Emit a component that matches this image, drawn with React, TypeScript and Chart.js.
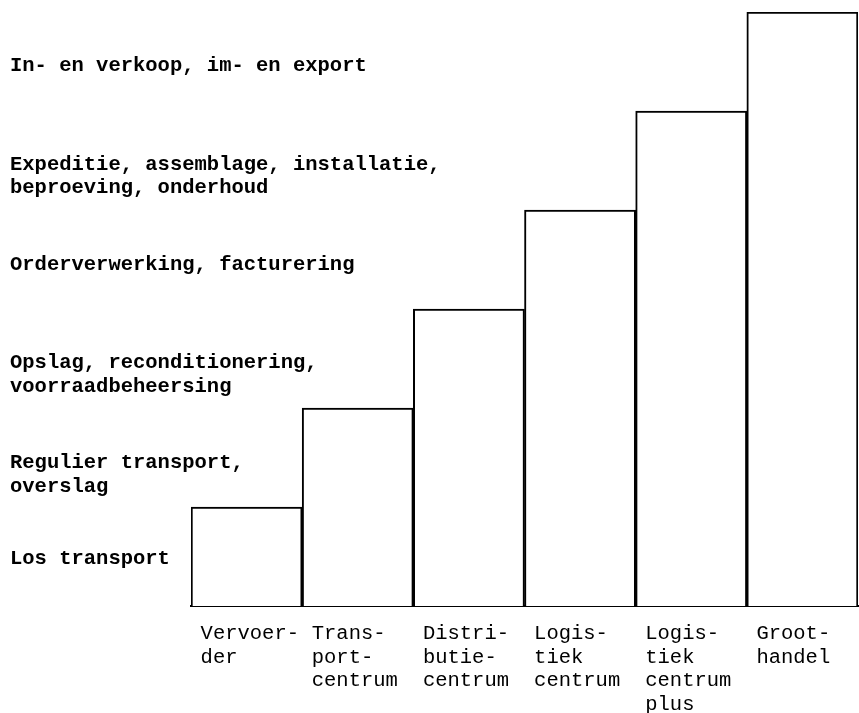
import React, { useEffect, useRef } from "react";
import { Chart, registerables } from "chart.js";

Chart.register(...registerables);

const categories: string[][] = [
  ["Vervoer-", "der"],
  ["Trans-", "port-", "centrum"],
  ["Distri-", "butie-", "centrum"],
  ["Logis-", "tiek", "centrum"],
  ["Logis-", "tiek", "centrum", "plus"],
  ["Groot-", "handel"],
];

const levels: number[] = [1, 2, 3, 4, 5, 6];

const functionLabels: string[][] = [
  ["Los transport"],
  ["Regulier transport,", "overslag"],
  ["Opslag, reconditionering,", "voorraadbeheersing"],
  ["Orderverwerking, facturering"],
  ["Expeditie, assemblage, installatie,", "beproeving, onderhoud"],
  ["In- en verkoop, im- en export"],
];

const functionLabelPositions: number[] = [0.48, 1.32, 2.33, 3.45, 4.34, 5.46];

export default function App() {
  const ref = useRef<HTMLCanvasElement | null>(null);

  useEffect(() => {
    if (!ref.current) return;
    const chart = new Chart(ref.current, {
      type: "bar",
      data: {
        labels: categories,
        datasets: [
          {
            data: levels,
            backgroundColor: "#ffffff",
            borderColor: "#000000",
            borderWidth: 2,
            borderSkipped: "bottom",
            categoryPercentage: 1,
            barPercentage: 1,
          },
        ],
      },
      options: {
        animation: false,
        responsive: true,
        maintainAspectRatio: false,
        layout: { padding: { left: 10, top: 12, right: 1, bottom: 0 } },
        plugins: { legend: { display: false }, tooltip: { enabled: false } },
        scales: {
          x: {
            grid: { display: false, drawTicks: false },
            border: { display: true, color: "#000000", width: 2 },
            ticks: {
              color: "#000000",
              align: "start",
              labelOffset: -46,
              padding: 16,
              maxRotation: 0,
              autoSkip: false,
              font: { family: "'Liberation Mono', monospace", size: 20.5, lineHeight: 1.15 },
            },
            afterFit: (scale: any) => {
              scale.height = 107;
              scale.paddingLeft = 0;
              scale.paddingRight = 0;
            },
          },
          y: {
            min: 0,
            max: 6,
            grid: { display: false, drawTicks: false },
            border: { display: false },
            afterBuildTicks: (scale: any) => {
              scale.ticks = functionLabelPositions.map((v) => ({ value: v }));
            },
            afterFit: (scale: any) => {
              scale.width = 181;
              scale.paddingTop = 0;
              scale.paddingBottom = 0;
            },
            ticks: {
              color: "#000000",
              mirror: true,
              padding: -181,
              autoSkip: false,
              callback: (_v: any, i: number) => functionLabels[i],
              font: { family: "'Liberation Mono', monospace", size: 20.5, weight: "bold", lineHeight: 1.17 },
            },
          },
        },
      },
    } as any);
    return () => chart.destroy();
  }, []);

  return (
    <div style={{ position: "absolute", left: 0, top: 0, width: 859, height: 713, background: "#fff" }}>
      <canvas ref={ref} />
    </div>
  );
}
